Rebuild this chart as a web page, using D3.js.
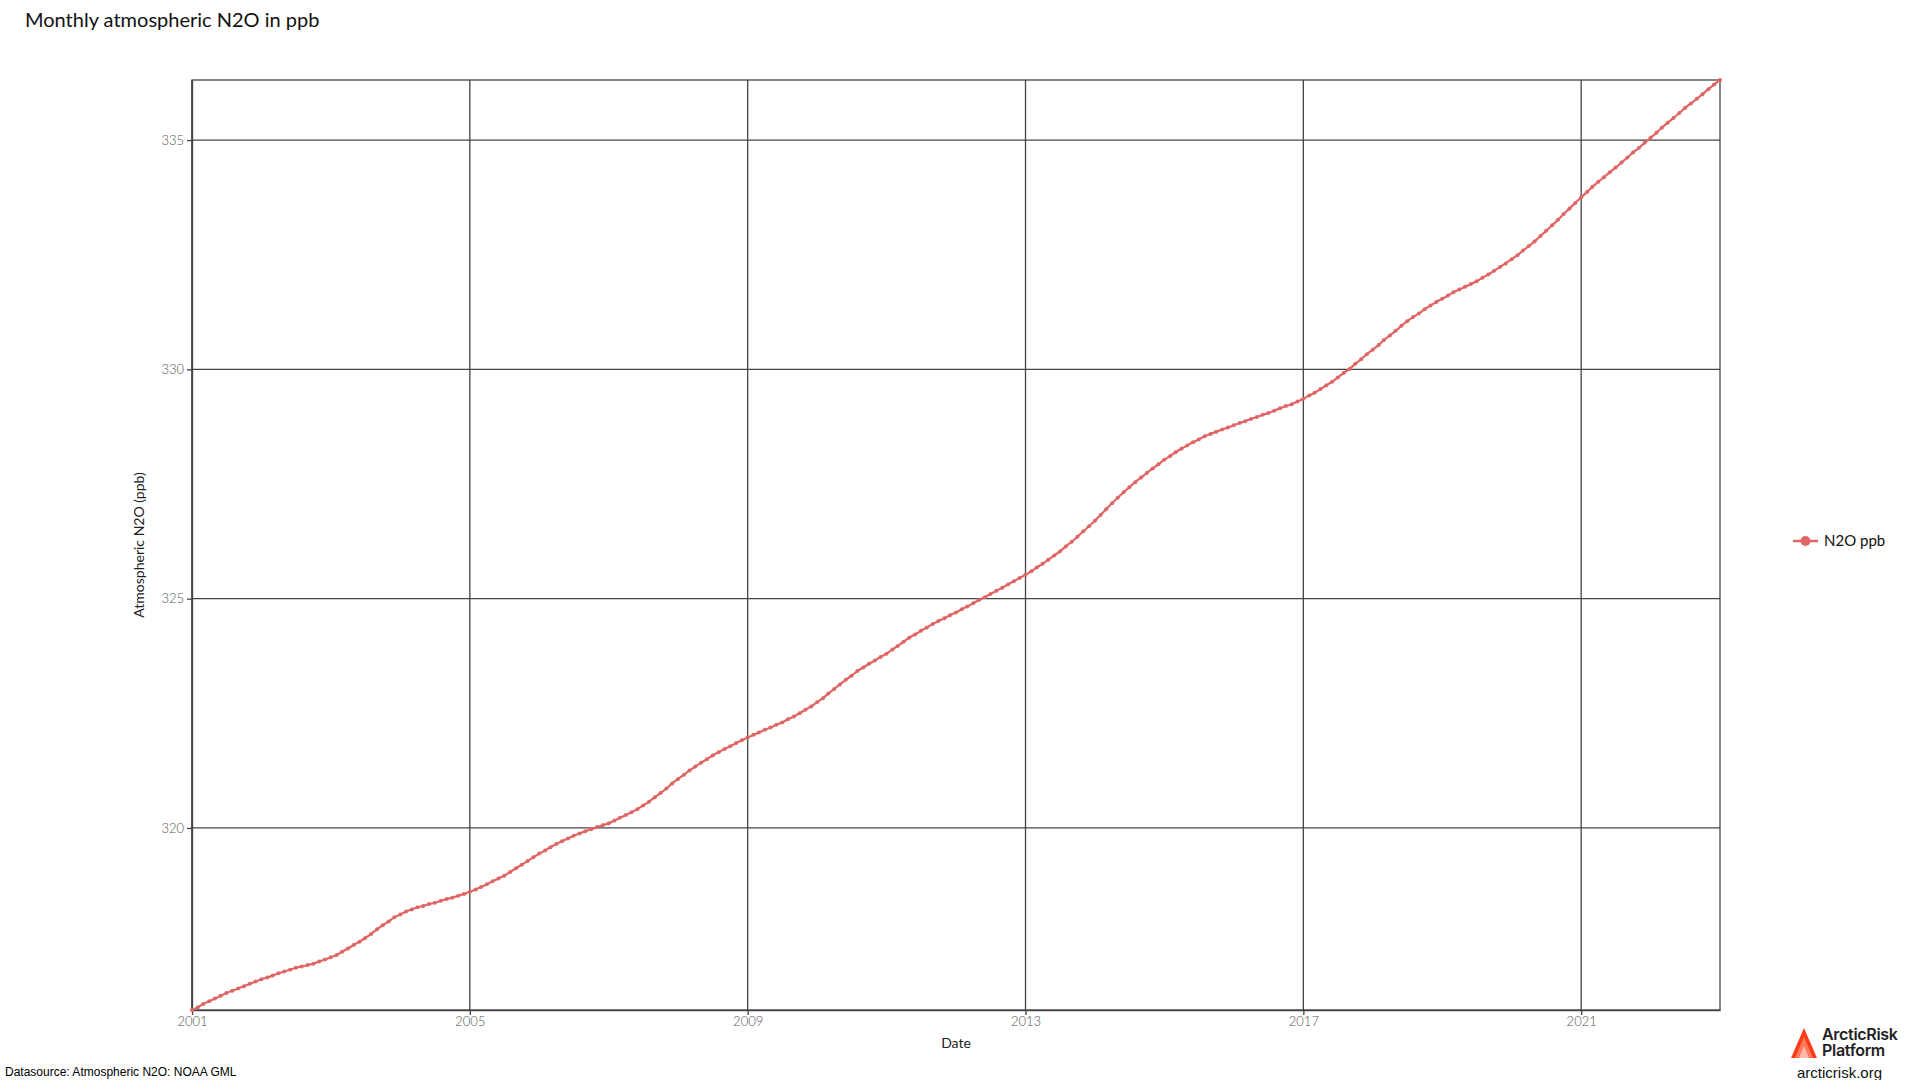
<!DOCTYPE html>
<html>
<head>
<meta charset="utf-8">
<script src="https://cdn.jsdelivr.net/npm/d3@7"></script>
<style>
  html, body { margin: 0; padding: 0; background: #fff; }
  svg { display: block; }
</style>
</head>
<body>
<svg id="chart" width="1920" height="1080"></svg>
<script>
// ---- data ----
const startYear = 2001;
const seriesName = "N2O ppb";
const n2o = [
  316.03, 316.09, 316.16, 316.22, 316.28, 316.34, 316.40, 316.45, 316.50, 316.55, 316.60, 316.65,
  316.70, 316.74, 316.78, 316.83, 316.87, 316.91, 316.95, 316.98, 317.01, 317.04, 317.09, 317.13,
  317.18, 317.23, 317.30, 317.37, 317.45, 317.52, 317.60, 317.69, 317.79, 317.88, 317.96, 318.05,
  318.11, 318.18, 318.22, 318.27, 318.30, 318.34, 318.37, 318.41, 318.45, 318.48, 318.52, 318.56,
  318.61, 318.66, 318.71, 318.77, 318.84, 318.90, 318.96, 319.04, 319.12, 319.20, 319.28, 319.36,
  319.44, 319.51, 319.58, 319.65, 319.71, 319.77, 319.83, 319.88, 319.93, 319.97, 320.02, 320.06,
  320.10, 320.16, 320.22, 320.28, 320.34, 320.41, 320.49, 320.57, 320.67, 320.76, 320.86, 320.97,
  321.07, 321.16, 321.25, 321.34, 321.42, 321.50, 321.58, 321.65, 321.72, 321.78, 321.85, 321.91,
  321.97, 322.03, 322.08, 322.14, 322.19, 322.25, 322.30, 322.37, 322.43, 322.50, 322.58, 322.65,
  322.74, 322.83, 322.93, 323.03, 323.13, 323.23, 323.32, 323.42, 323.50, 323.58, 323.65, 323.73,
  323.80, 323.89, 323.97, 324.06, 324.15, 324.22, 324.30, 324.37, 324.45, 324.51, 324.57, 324.64,
  324.70, 324.77, 324.83, 324.90, 324.97, 325.03, 325.10, 325.17, 325.24, 325.31, 325.38, 325.45,
  325.52, 325.60, 325.68, 325.76, 325.85, 325.94, 326.03, 326.14, 326.24, 326.35, 326.47, 326.58,
  326.70, 326.83, 326.95, 327.08, 327.20, 327.32, 327.43, 327.54, 327.64, 327.74, 327.84, 327.93,
  328.03, 328.11, 328.19, 328.27, 328.34, 328.41, 328.47, 328.54, 328.59, 328.64, 328.69, 328.73,
  328.78, 328.83, 328.87, 328.92, 328.96, 329.01, 329.05, 329.10, 329.15, 329.20, 329.24, 329.30,
  329.36, 329.43, 329.49, 329.57, 329.65, 329.73, 329.82, 329.92, 330.01, 330.12, 330.22, 330.33,
  330.43, 330.53, 330.64, 330.74, 330.84, 330.95, 331.05, 331.14, 331.22, 331.31, 331.39, 331.47,
  331.54, 331.61, 331.68, 331.74, 331.80, 331.86, 331.92, 332.00, 332.07, 332.15, 332.23, 332.31,
  332.40, 332.49, 332.59, 332.69, 332.79, 332.91, 333.02, 333.14, 333.26, 333.39, 333.51, 333.63,
  333.75, 333.87, 333.98, 334.09, 334.19, 334.30, 334.40, 334.51, 334.62, 334.73, 334.83, 334.94,
  335.05, 335.16, 335.27, 335.38, 335.48, 335.59, 335.70, 335.80, 335.90, 336.00, 336.11, 336.21,
  336.31
];
const xTickYears = [2001, 2005, 2009, 2013, 2017, 2021];
const yTicks = [320, 325, 330, 335];

// ---- layout ----
const m = { left: 192, right: 1720, top: 80, bottom: 1010 };
const lineColor = "#e06666";
const gridColor = "#444";
const uiFont = "Lato, 'Open Sans', sans-serif";

const data = n2o.map((v, i) => ({ date: new Date(startYear, i, 1), value: v }));

const svg = d3.select("#chart");

const x = d3.scaleTime()
  .domain(d3.extent(data, d => d.date))
  .range([m.left, m.right]);
const y = d3.scaleLinear()
  .domain(d3.extent(data, d => d.value))
  .range([m.bottom, m.top]);

// title
svg.append("text")
  .attr("x", 25).attr("y", 27)
  .attr("font-family", uiFont)
  .attr("font-size", 20)
  .attr("fill", "#111")
  .text("Monthly atmospheric N2O in ppb");

// grid
const g = svg.append("g");
g.selectAll("line.hgrid").data(yTicks).join("line")
  .attr("x1", m.left).attr("x2", m.right)
  .attr("y1", d => y(d)).attr("y2", d => y(d))
  .attr("stroke", gridColor).attr("stroke-width", 1.3);
g.selectAll("line.vgrid").data(xTickYears).join("line")
  .attr("x1", d => x(new Date(d, 0, 1))).attr("x2", d => x(new Date(d, 0, 1)))
  .attr("y1", m.top).attr("y2", m.bottom)
  .attr("stroke", gridColor).attr("stroke-width", 1.3);
// frame
g.append("rect")
  .attr("x", m.left).attr("y", m.top)
  .attr("width", m.right - m.left).attr("height", m.bottom - m.top)
  .attr("fill", "none").attr("stroke", gridColor).attr("stroke-width", 1.3);

// axes
const xAxis = d3.axisBottom(x)
  .tickValues(xTickYears.map(yv => new Date(yv, 0, 1)))
  .tickFormat(d3.timeFormat("%Y"))
  .tickSizeInner(5).tickSizeOuter(0).tickPadding(2);
const yAxis = d3.axisLeft(y)
  .tickValues(yTicks)
  .tickFormat(d3.format("d"))
  .tickSizeInner(5).tickSizeOuter(0).tickPadding(3);

const gx = svg.append("g").attr("transform", `translate(0,${m.bottom})`).call(xAxis);
const gy = svg.append("g").attr("transform", `translate(${m.left},0)`).call(yAxis);
[gx, gy].forEach(a => {
  a.select(".domain").attr("stroke", gridColor).attr("stroke-width", 1.3);
  a.selectAll(".tick line").attr("stroke", gridColor).attr("stroke-width", 1.3);
  a.selectAll(".tick text")
    .attr("font-family", uiFont)
    .attr("font-size", 13)
    .attr("font-weight", 300)
    .attr("fill", "#555");
});

// axis titles
svg.append("text")
  .attr("x", (m.left + m.right) / 2).attr("y", 1048)
  .attr("text-anchor", "middle")
  .attr("font-family", uiFont)
  .attr("font-size", 14).attr("fill", "#222")
  .text("Date");
svg.append("text")
  .attr("transform", `translate(144,${(m.top + m.bottom) / 2}) rotate(-90)`)
  .attr("text-anchor", "middle")
  .attr("font-family", uiFont)
  .attr("font-size", 14).attr("fill", "#222")
  .text("Atmospheric N2O (ppb)");

// line + markers
const line = d3.line().x(d => x(d.date)).y(d => y(d.value)).curve(d3.curveMonotoneX);
svg.append("path").datum(data)
  .attr("d", line)
  .attr("fill", "none").attr("stroke", lineColor).attr("stroke-width", 2.2);
svg.append("g").selectAll("circle").data(data).join("circle")
  .attr("cx", d => x(d.date)).attr("cy", d => y(d.value))
  .attr("r", 2).attr("fill", lineColor);

// legend
const lg = svg.append("g").attr("transform", "translate(1793,541)");
lg.append("line").attr("x1", 0).attr("x2", 25).attr("y1", 0).attr("y2", 0)
  .attr("stroke", lineColor).attr("stroke-width", 2.5);
lg.append("circle").attr("cx", 12.5).attr("cy", 0).attr("r", 5).attr("fill", lineColor);
lg.append("text").attr("x", 31).attr("y", 5)
  .attr("font-family", uiFont)
  .attr("font-size", 15).attr("fill", "#111")
  .text(seriesName);

// footer
svg.append("text")
  .attr("x", 5).attr("y", 1076)
  .attr("font-family", "'Liberation Sans', Arial, sans-serif")
  .attr("font-size", 12).attr("fill", "#000")
  .text("Datasource: Atmospheric N2O: NOAA GML");

// logo
const logo = svg.append("g").attr("transform", "translate(1791,1028)");
const tri = (w, h, dx, dy) => `M${dx},${dy + h} L${dx + w / 2},${dy} L${dx + w},${dy + h} Z`;
logo.append("path").attr("d", tri(26, 30, 0, 0)).attr("fill", "#ff3a1a");
logo.append("path").attr("d", tri(18, 21, 4, 9)).attr("fill", "#ff7a5c");
logo.append("path").attr("d", tri(10, 12, 8, 18)).attr("fill", "#ffb9a8");
const brand = svg.append("text").attr("fill", "#222")
  .attr("font-family", "Inter, Roboto, sans-serif").attr("font-weight", 600)
  .attr("font-size", 16).attr("letter-spacing", -0.3);
brand.append("tspan").attr("x", 1822).attr("y", 1040).text("ArcticRisk");
brand.append("tspan").attr("x", 1822).attr("y", 1056).text("Platform");
svg.append("text").attr("x", 1797).attr("y", 1078)
  .attr("font-family", "'Liberation Sans', Arial, sans-serif")
  .attr("font-size", 15).attr("fill", "#111")
  .text("arcticrisk.org");
</script>
</body>
</html>
